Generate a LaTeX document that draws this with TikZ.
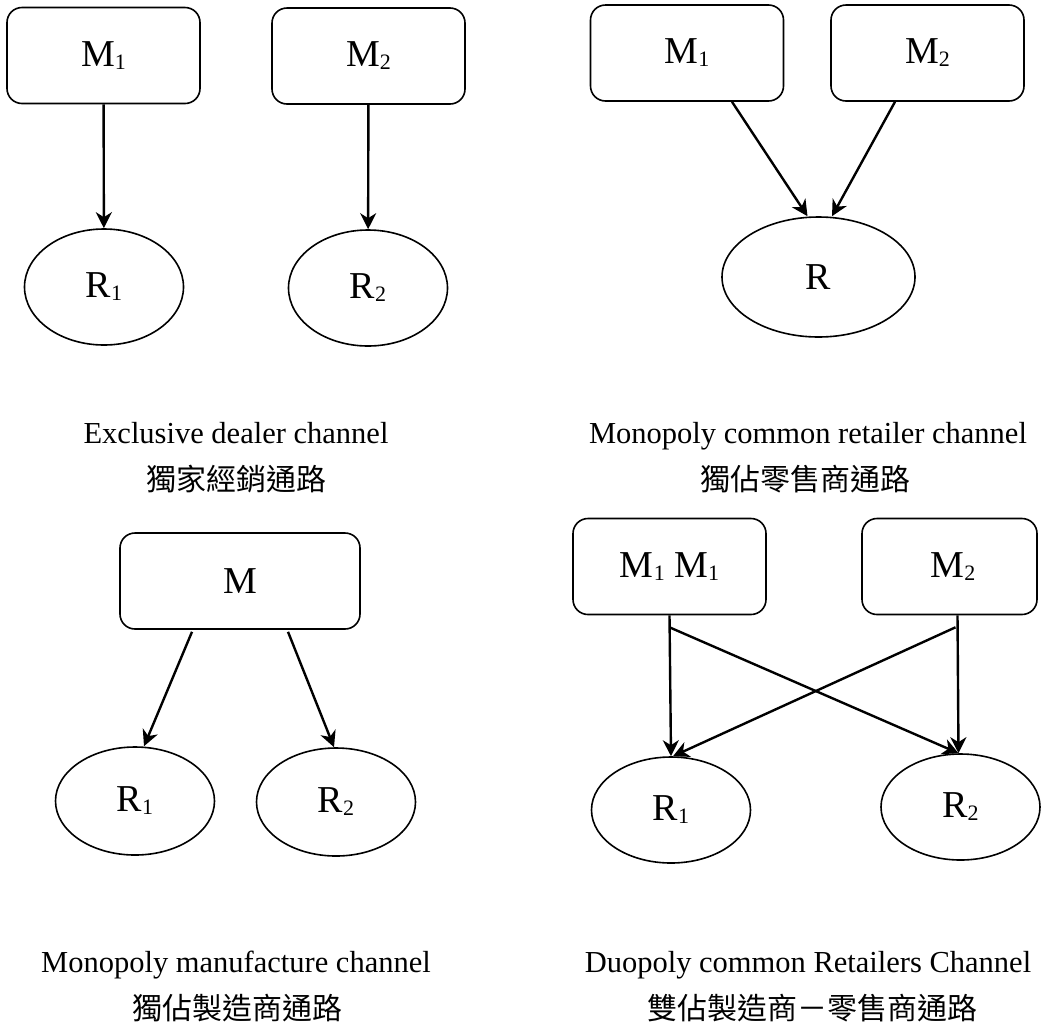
\documentclass[tikz,border=0pt]{standalone}
\usepackage{fontspec}
\setmainfont{Liberation Serif}
\newfontfamily\cjk{Noto Sans CJK TC}
\usetikzlibrary{arrows.meta,shapes.geometric}
\newcommand{\lowidx}[1]{\raisebox{-3pt}{\fontsize{22}{22}\selectfont #1}}

\begin{document}
\begin{tikzpicture}[x=1pt,y=-1pt]
		\tikzset{
			maker/.style=
			{draw,line width=1.6pt,rounded corners=15pt,minimum width=193pt,minimum height=96pt,inner sep=0pt,font=\fontsize{38}{38}\selectfont},
			seller/.style=
			{draw,ellipse,line width=1.6pt,minimum width=159pt,minimum height=116pt,inner sep=0pt,font=\fontsize{38}{38}\selectfont},
			flow/.style=
			{line width=2.4pt,-{Stealth[length=16pt,width=16pt,inset=5pt]}},
			caption/.style=
			{anchor=base,font=\fontsize{30.5}{30.5}\selectfont},
			zhcaption/.style=
			{anchor=base,font=\cjk\fontsize{30}{30}\selectfont},
		}
		\useasboundingbox (0,0) rectangle (1041,1029);
		\begin{scope}
		\node[maker] (xm1) at (103.5,55.5) {M\lowidx{1}};
		\node[maker] (xm2) at (368.5,56) {M\lowidx{2}};
		\node[seller] (xr1) at (104,287) {R\lowidx{1}};
		\node[seller] (xr2) at (368,288) {R\lowidx{2}};
		\draw[flow] (xm1) -- (xr1);
		\draw[flow] (xm2) -- (xr2);
		\node[caption] (xcap) at (236,443) {Exclusive dealer channel};
		\node[zhcaption] (xzh) at (236,490) {獨家經銷通路};
		\end{scope}
		\begin{scope}
		\node[maker] (cm1) at (687,53) {M\lowidx{1}};
		\node[maker] (cm2) at (927.5,53) {M\lowidx{2}};
		\node[seller,minimum width=193pt,minimum height=120pt] (cr) at (818.5,277) {R};
		\draw[flow] ([xshift=45pt]cm1.south) -- ([xshift=-11pt]cr.north);
		\draw[flow] ([xshift=-32.5pt]cm2.south) -- ([xshift=13.5pt]cr.north);
		\node[caption] (ccap) at (808,443) {Monopoly common retailer channel};
		\node[zhcaption] (czh) at (805,490) {獨佔零售商通路};
		\end{scope}
		\begin{scope}
		\node[maker,minimum width=240pt] (pm) at (240,581) {M};
		\node[seller,minimum height=108pt] (pr1) at (135,801) {R\lowidx{1}};
		\node[seller,minimum height=108pt] (pr2) at (336,802) {R\lowidx{2}};
		\draw[flow] ([xshift=-48pt,yshift=-2pt]pm.south) -- ([xshift=9pt]pr1.north);
		\draw[flow] ([xshift=48pt,yshift=-2pt]pm.south) -- ([xshift=-2pt]pr2.north);
		\node[caption] (pcap) at (236,972) {Monopoly manufacture channel};
		\node[zhcaption] (pzh) at (237,1019) {獨佔製造商通路};
		\end{scope}
		\begin{scope}
		\node[maker] (dm1) at (669.5,566.5) {M\lowidx{1} M\lowidx{1}};
		\node[maker,minimum width=175pt] (dm2) at (949.5,566.5) {\hspace{7pt}M\lowidx{2}};
		\node[seller,minimum height=106pt] (dr1) at (671,810) {R\lowidx{1}};
		\node[seller,minimum height=106pt] (dr2) at (960.5,807) {R\lowidx{2}};
		\coordinate (dm1split) at ([yshift=-12pt]dm1.south);
		\coordinate (dm2split) at ([xshift=6pt,yshift=-12pt]dm2.south);
		\draw[flow] (dm1.south) -- (dr1.north);
		\draw[flow] ([xshift=8pt]dm2.south) -- ([xshift=-2pt]dr2.north);
		\draw[flow] (dm1split) -- ([xshift=-2pt]dr2.north);
		\draw[flow] (dm2split) -- ([xshift=2pt]dr1.north);
		\node[caption] (dcap) at (808,972) {Duopoly common Retailers Channel};
		\node[zhcaption] (dzh) at (812,1019) {雙佔製造商－零售商通路};
		\end{scope}
		\end{tikzpicture}
\end{document}
